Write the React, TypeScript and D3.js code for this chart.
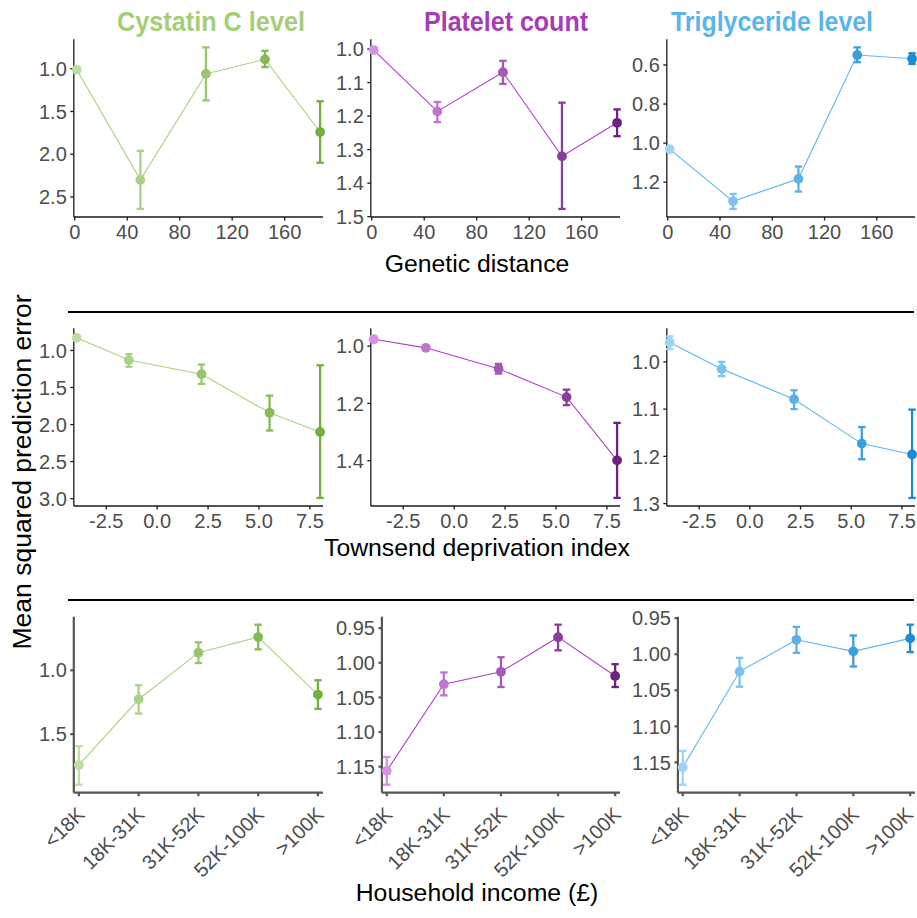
import React from 'react';
import * as d3 from 'd3';

// ---------- data ----------
const traitNames = ['Cystatin C level', 'Platelet count', 'Triglyceride level'];

// Row 1: genetic distance
const geneticDistance = [1.5, 50, 100, 145, 187];
const geneticTicks = [0, 40, 80, 120, 160];
const cystatinGenMean = [1.01, 2.3, 1.06, 0.89, 1.74];
const cystatinGenLo = [0.98, 1.96, 0.75, 0.79, 1.38];
const cystatinGenHi = [1.04, 2.64, 1.37, 0.98, 2.1];
const plateletGenMean = [1.003, 1.186, 1.069, 1.32, 1.22];
const plateletGenLo = [0.995, 1.158, 1.035, 1.16, 1.18];
const plateletGenHi = [1.011, 1.218, 1.104, 1.477, 1.26];
const trigGenMean = [1.031, 1.298, 1.183, 0.549, 0.568];
const trigGenLo = [1.02, 1.26, 1.12, 0.51, 0.54];
const trigGenHi = [1.042, 1.337, 1.248, 0.586, 0.595];

// Row 2: Townsend deprivation index
const townsend = [-3.95, -1.39, 2.18, 5.52, 8.0];
const townsendTicks = [-2.5, 0, 2.5, 5, 7.5];
const cystatinTdiMean = [0.83, 1.13, 1.32, 1.84, 2.1];
const cystatinTdiLo = [0.81, 1.05, 1.19, 1.61, 1.2];
const cystatinTdiHi = [0.85, 1.22, 1.45, 2.08, 2.99];
const plateletTdiMean = [0.976, 1.006, 1.079, 1.178, 1.399];
const plateletTdiLo = [0.966, 0.998, 1.062, 1.152, 1.268];
const plateletTdiHi = [0.986, 1.014, 1.096, 1.206, 1.53];
const trigTdiMean = [0.959, 1.015, 1.079, 1.173, 1.196];
const trigTdiLo = [0.946, 1.0, 1.06, 1.138, 1.101];
const trigTdiHi = [0.973, 1.03, 1.1, 1.206, 1.288];

// Row 3: household income
const incomeBands = ['<18K', '18K-31K', '31K-52K', '52K-100K', '>100K'];
const cystatinIncMean = [1.742, 1.227, 0.862, 0.74, 1.19];
const cystatinIncLo = [1.594, 1.117, 0.781, 0.643, 1.078];
const cystatinIncHi = [1.896, 1.339, 0.943, 0.836, 1.302];
const plateletIncMean = [1.156, 1.031, 1.013, 0.963, 1.019];
const plateletIncLo = [1.136, 1.014, 0.992, 0.945, 1.002];
const plateletIncHi = [1.176, 1.047, 1.035, 0.982, 1.035];
const trigIncMean = [1.157, 1.024, 0.98, 0.996, 0.978];
const trigIncLo = [1.134, 1.005, 0.962, 0.974, 0.959];
const trigIncHi = [1.181, 1.045, 0.998, 1.017, 0.997];

// y tick values
const yTicksGen = [[1.0, 1.5, 2.0, 2.5], [1.0, 1.1, 1.2, 1.3, 1.4, 1.5], [0.6, 0.8, 1.0, 1.2]];
const yTicksTdi = [[1.0, 1.5, 2.0, 2.5, 3.0], [1.0, 1.2, 1.4], [1.0, 1.1, 1.2, 1.3]];
const yTicksInc = [[1.0, 1.5], [0.95, 1.0, 1.05, 1.1, 1.15], [0.95, 1.0, 1.05, 1.1, 1.15]];
const yFmtInc = [1, 2, 2];

const rowTitles = ['Genetic distance', 'Townsend deprivation index', 'Household income (£)'];
const yAxisTitle = 'Mean squared prediction error';

// ---------- styles ----------
const FONT = "'Liberation Sans', Arial, Helvetica, sans-serif";
const TICK_SIZE = 20;
const titleColors = ['#A5CE78', '#A63DB6', '#5AB5EA'];
const lineColors = ['#A9D385', '#B040C2', '#5CB8EE'];
const lightColors = ['#BCDEA0', '#DB90E8', '#9DD5F5'];
const darkColors = ['#74AE3C', '#6C2380', '#1A8BD5'];

const rowTop = [39.3, 328.3, 616.7];
const rowBottom = [217, 506, 792.7];
const colLabelStart = [39, 336, 632];
const colRight = [323, 620, 915];

let _ctx: CanvasRenderingContext2D | null = null;
function textWidth(s: string, size: number) {
  if (!_ctx) _ctx = document.createElement('canvas').getContext('2d');
  if (!_ctx) return s.length * size * 0.55;
  _ctx.font = `${size}px 'Liberation Sans', Arial`;
  return _ctx.measureText(s).width;
}

type Spec = {
  row: number;
  col: number;
  xs: (number | string)[];
  mean: number[];
  lo: number[];
  hi: number[];
  yTicks: number[];
  yDec: number;
  xTicks?: number[];
};

function Panel({ s }: { s: Spec }) {
  const { row, col } = s;
  const labels = s.yTicks.map((t) => t.toFixed(s.yDec));
  const maxW = Math.max(...labels.map((l) => textWidth(l, TICK_SIZE)));
  const left = colLabelStart[col] + maxW + 7;
  const right = colRight[col];
  const top = rowTop[row];
  const bottom = rowBottom[row];

  const mn = d3.min(s.lo) as number;
  const mx = d3.max(s.hi) as number;
  const pad = (mx - mn) * 0.05;
  const y = d3.scaleLinear().domain([mn - pad, mx + pad]).range([top, bottom]);

  const discrete = row === 2;
  let xf: (v: number | string) => number;
  let xTickItems: { pos: number; label: string }[] = [];
  if (discrete) {
    const xp = d3.scalePoint<string>().domain(s.xs as string[]).range([left, right]).padding(0.085);
    xf = (v) => xp(v as string) as number;
    xTickItems = (s.xs as string[]).map((c) => ({ pos: xp(c) as number, label: c }));
  } else {
    const ext = d3.extent(s.xs as number[]) as [number, number];
    const xpad = (ext[1] - ext[0]) * 0.012;
    const xl = d3.scaleLinear().domain([ext[0] - xpad, ext[1] + xpad]).range([left, right]);
    xf = (v) => xl(v as number);
    xTickItems = (s.xTicks || []).map((t) => ({ pos: xl(t), label: row === 1 ? t.toFixed(1) : String(t) }));
  }

  const axisColor = discrete ? '#555555' : '#1a1a1a';
  const axisW = discrete ? 2.2 : 1.3;
  const tickLen = 3.5;
  const colorOf = (i: number) => d3.interpolateRgb(lightColors[col], darkColors[col])(i / (s.mean.length - 1));
  const line = d3.line<number>().x((_, i) => xf(s.xs[i])).y((d) => y(d));

  return (
    <g>
      <line x1={left} x2={left} y1={top} y2={bottom} stroke={axisColor} strokeWidth={axisW} />
      <line x1={left} x2={right} y1={bottom} y2={bottom} stroke={axisColor} strokeWidth={axisW} />
      {s.yTicks.map((t, i) => (
        <g key={'yt' + i}>
          <line x1={left - tickLen} x2={left} y1={y(t)} y2={y(t)} stroke={axisColor} strokeWidth={axisW} />
          <text x={left - 7} y={y(t)} dy="0.36em" textAnchor="end" fontSize={TICK_SIZE} fill="#4D4D4D" fontFamily={FONT}>
            {labels[i]}
          </text>
        </g>
      ))}
      {xTickItems.map((t, i) => (
        <g key={'xt' + i}>
          <line x1={t.pos} x2={t.pos} y1={bottom} y2={bottom + tickLen} stroke={axisColor} strokeWidth={axisW} />
          {discrete ? (
            <text
              transform={`translate(${Math.min(t.pos + 7, 914.5)},${bottom + 23}) rotate(-45)`}
              textAnchor="end"
              fontSize={TICK_SIZE}
              fill="#4D4D4D"
              fontFamily={FONT}
            >
              {t.label}
            </text>
          ) : (
            <text x={t.pos} y={bottom + 21.5} textAnchor="middle" fontSize={TICK_SIZE} fill="#4D4D4D" fontFamily={FONT}>
              {t.label}
            </text>
          )}
        </g>
      ))}
      <path d={line(s.mean) || ''} fill="none" stroke={lineColors[col]} strokeWidth={1.1} />
      {s.mean.map((m, i) => {
        const cx = xf(s.xs[i]);
        const c = colorOf(i);
        return (
          <g key={'p' + i}>
            <line x1={cx} x2={cx} y1={y(s.lo[i])} y2={y(s.hi[i])} stroke={c} strokeWidth={2.3} />
            <line x1={cx - 3.7} x2={cx + 3.7} y1={y(s.lo[i])} y2={y(s.lo[i])} stroke={c} strokeWidth={2.3} />
            <line x1={cx - 3.7} x2={cx + 3.7} y1={y(s.hi[i])} y2={y(s.hi[i])} stroke={c} strokeWidth={2.3} />
            <circle cx={cx} cy={y(m)} r={4.9} fill={c} />
          </g>
        );
      })}
    </g>
  );
}

export default function App() {
  const specs: Spec[] = [
    { row: 0, col: 0, xs: geneticDistance, mean: cystatinGenMean, lo: cystatinGenLo, hi: cystatinGenHi, yTicks: yTicksGen[0], yDec: 1, xTicks: geneticTicks },
    { row: 0, col: 1, xs: geneticDistance, mean: plateletGenMean, lo: plateletGenLo, hi: plateletGenHi, yTicks: yTicksGen[1], yDec: 1, xTicks: geneticTicks },
    { row: 0, col: 2, xs: geneticDistance, mean: trigGenMean, lo: trigGenLo, hi: trigGenHi, yTicks: yTicksGen[2], yDec: 1, xTicks: geneticTicks },
    { row: 1, col: 0, xs: townsend, mean: cystatinTdiMean, lo: cystatinTdiLo, hi: cystatinTdiHi, yTicks: yTicksTdi[0], yDec: 1, xTicks: townsendTicks },
    { row: 1, col: 1, xs: townsend, mean: plateletTdiMean, lo: plateletTdiLo, hi: plateletTdiHi, yTicks: yTicksTdi[1], yDec: 1, xTicks: townsendTicks },
    { row: 1, col: 2, xs: townsend, mean: trigTdiMean, lo: trigTdiLo, hi: trigTdiHi, yTicks: yTicksTdi[2], yDec: 1, xTicks: townsendTicks },
    { row: 2, col: 0, xs: incomeBands, mean: cystatinIncMean, lo: cystatinIncLo, hi: cystatinIncHi, yTicks: yTicksInc[0], yDec: yFmtInc[0] },
    { row: 2, col: 1, xs: incomeBands, mean: plateletIncMean, lo: plateletIncLo, hi: plateletIncHi, yTicks: yTicksInc[1], yDec: yFmtInc[1] },
    { row: 2, col: 2, xs: incomeBands, mean: trigIncMean, lo: trigIncLo, hi: trigIncHi, yTicks: yTicksInc[2], yDec: yFmtInc[2] },
  ];

  const titleX = [211, 506, 772];
  const titleW = [188, 164, 202];
  const rowTitleY = [272, 556, 901];

  return (
    <svg width={917} height={918} style={{ position: 'absolute', left: 0, top: 0, background: '#fff' }}>
      <rect x={0} y={0} width={917} height={918} fill="#fff" />
      {traitNames.map((t, i) => (
        <text
          key={t}
          x={titleX[i]}
          y={31}
          textAnchor="middle"
          fontSize={27}
          fontWeight="bold"
          fill={titleColors[i]}
          fontFamily="'Liberation Sans Narrow', 'Arial Narrow', 'Liberation Sans', Arial, sans-serif"
          textLength={titleW[i]}
          lengthAdjust="spacingAndGlyphs"
        >
          {t}
        </text>
      ))}
      {specs.map((s, i) => (
        <Panel key={i} s={s} />
      ))}
      {rowTitles.map((t, i) => (
        <text key={t} x={477} y={rowTitleY[i]} textAnchor="middle" fontSize={24.8} fill="#000" fontFamily={FONT}>
          {t}
        </text>
      ))}
      <line x1={68} x2={914} y1={312} y2={312} stroke="#000" strokeWidth={2} />
      <line x1={68} x2={914} y1={600} y2={600} stroke="#000" strokeWidth={2} />
      <text
        transform="translate(31,472) rotate(-90)"
        textAnchor="middle"
        fontSize={26.5}
        fill="#000"
        fontFamily={FONT}
      >
        {yAxisTitle}
      </text>
    </svg>
  );
}
